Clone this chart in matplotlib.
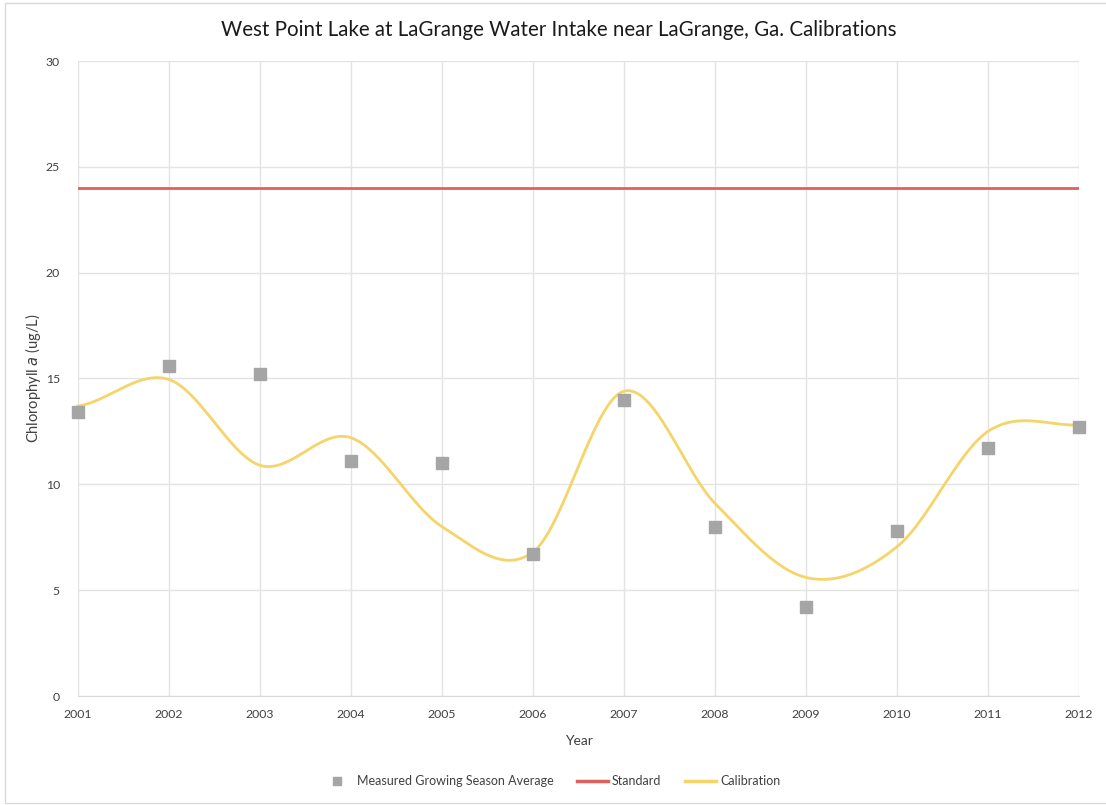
import numpy as np
import matplotlib
matplotlib.use("Agg")
import matplotlib.pyplot as plt
from matplotlib.lines import Line2D
from matplotlib.patches import Rectangle

plt.rcParams['font.family'] = ['Lato', 'DejaVu Sans']

# Data
years = [2001, 2002, 2003, 2004, 2005, 2006, 2007, 2008, 2009, 2010, 2011, 2012]
measured = [13.4, 15.6, 15.2, 11.1, 11.0, 6.7, 14.0, 8.0, 4.2, 7.8, 11.7, 12.7]
calibration = [13.7, 14.95, 10.9, 12.2, 8.0, 6.8, 14.4, 9.1, 5.6, 7.05, 12.5, 12.8]
standard = 24.0
year_labels = [str(y) for y in years]
y_ticks = [0, 5, 10, 15, 20, 25, 30]


def smooth_line(x, y, n=40):
    """Catmull-Rom style smoothing (as used by spreadsheet 'smoothed lines')."""
    x = np.asarray(x, float)
    y = np.asarray(y, float)
    px = np.concatenate([[2 * x[0] - x[1]], x, [2 * x[-1] - x[-2]]])
    py = np.concatenate([[y[0]], y, [y[-1]]])
    xs, ys = [], []
    t = np.linspace(0, 1, n)
    for i in range(1, len(px) - 2):
        p0x, p1x, p2x, p3x = px[i - 1:i + 3]
        p0y, p1y, p2y, p3y = py[i - 1:i + 3]
        # Bezier control points
        c1x, c1y = p1x + (p2x - p0x) / 6, p1y + (p2y - p0y) / 6
        c2x, c2y = p2x - (p3x - p1x) / 6, p2y - (p3y - p1y) / 6
        bx = (1 - t) ** 3 * p1x + 3 * (1 - t) ** 2 * t * c1x + 3 * (1 - t) * t ** 2 * c2x + t ** 3 * p2x
        by = (1 - t) ** 3 * p1y + 3 * (1 - t) ** 2 * t * c1y + 3 * (1 - t) * t ** 2 * c2y + t ** 3 * p2y
        xs.append(bx)
        ys.append(by)
    return np.concatenate(xs), np.concatenate(ys)


W, H = 1106, 805
fig = plt.figure(figsize=(W / 100, H / 100), dpi=100)
fig.patch.set_facecolor('white')

# Chart frame
fig.patches.append(Rectangle((5 / W, 2 / H), 1.2, 800 / H, transform=fig.transFigure,
                             fill=False, edgecolor='#d9d9d9', linewidth=1.0))

left, right, top, bottom = 78, 1079, 61, 696
ax = fig.add_axes([left / W, 1 - bottom / H, (right - left) / W, (bottom - top) / H])

grid_c = '#e3e3e3'
ax.set_xlim(years[0], years[-1])
ax.set_ylim(0, 30)
ax.set_xticks(years)
ax.set_xticklabels(year_labels)
ax.set_yticks(y_ticks)
ax.grid(True, color=grid_c, linewidth=1.0)
ax.set_axisbelow(True)
for side in ['top', 'right', 'left']:
    ax.spines[side].set_visible(False)
ax.spines['bottom'].set_color('#d9d9d9')
ax.tick_params(axis='both', length=0, labelsize=8.8, labelcolor='#404040')
ax.tick_params(axis='x', pad=9)
ax.tick_params(axis='y', pad=13)

# Standard line
ax.axhline(standard, color='#e0605c', linewidth=2.0, zorder=3)

# Calibration curve
sx, sy = smooth_line(years, calibration)
ax.plot(sx, sy, color='#f5d46a', linewidth=2.0, zorder=4, clip_on=False)

# Measured points
ax.plot(years, measured, linestyle='none', marker='s', markersize=8.5,
        color='#a5a5a5', zorder=5, clip_on=False)

fig.text(559 / W, 1 - 30 / H,
         'West Point Lake at LaGrange Water Intake near LaGrange, Ga. Calibrations',
         fontsize=14.8, color='#1a1a1a', ha='center', va='center')
ax.set_xlabel('Year', fontsize=10, color='#404040', labelpad=11)
ax.set_ylabel('Chlorophyll $\\it{a}$ (ug/L)', fontsize=10.5, color='#404040', labelpad=2)

handles = [
    Line2D([], [], linestyle='none', marker='s', markersize=6, color='#a5a5a5'),
    Line2D([], [], color='#e0605c', linewidth=2.5),
    Line2D([], [], color='#f5d46a', linewidth=2.5),
]
fig.legend(handles, ['Measured Growing Season Average', 'Standard', 'Calibration'],
           loc='center', bbox_to_anchor=(551 / W, 1 - 781 / H), ncol=3, frameon=False,
           fontsize=9, labelcolor='#404040', handlelength=2.5, handletextpad=0.3,
           columnspacing=1.9)

fig.savefig('out.png', dpi=100, facecolor='white')
